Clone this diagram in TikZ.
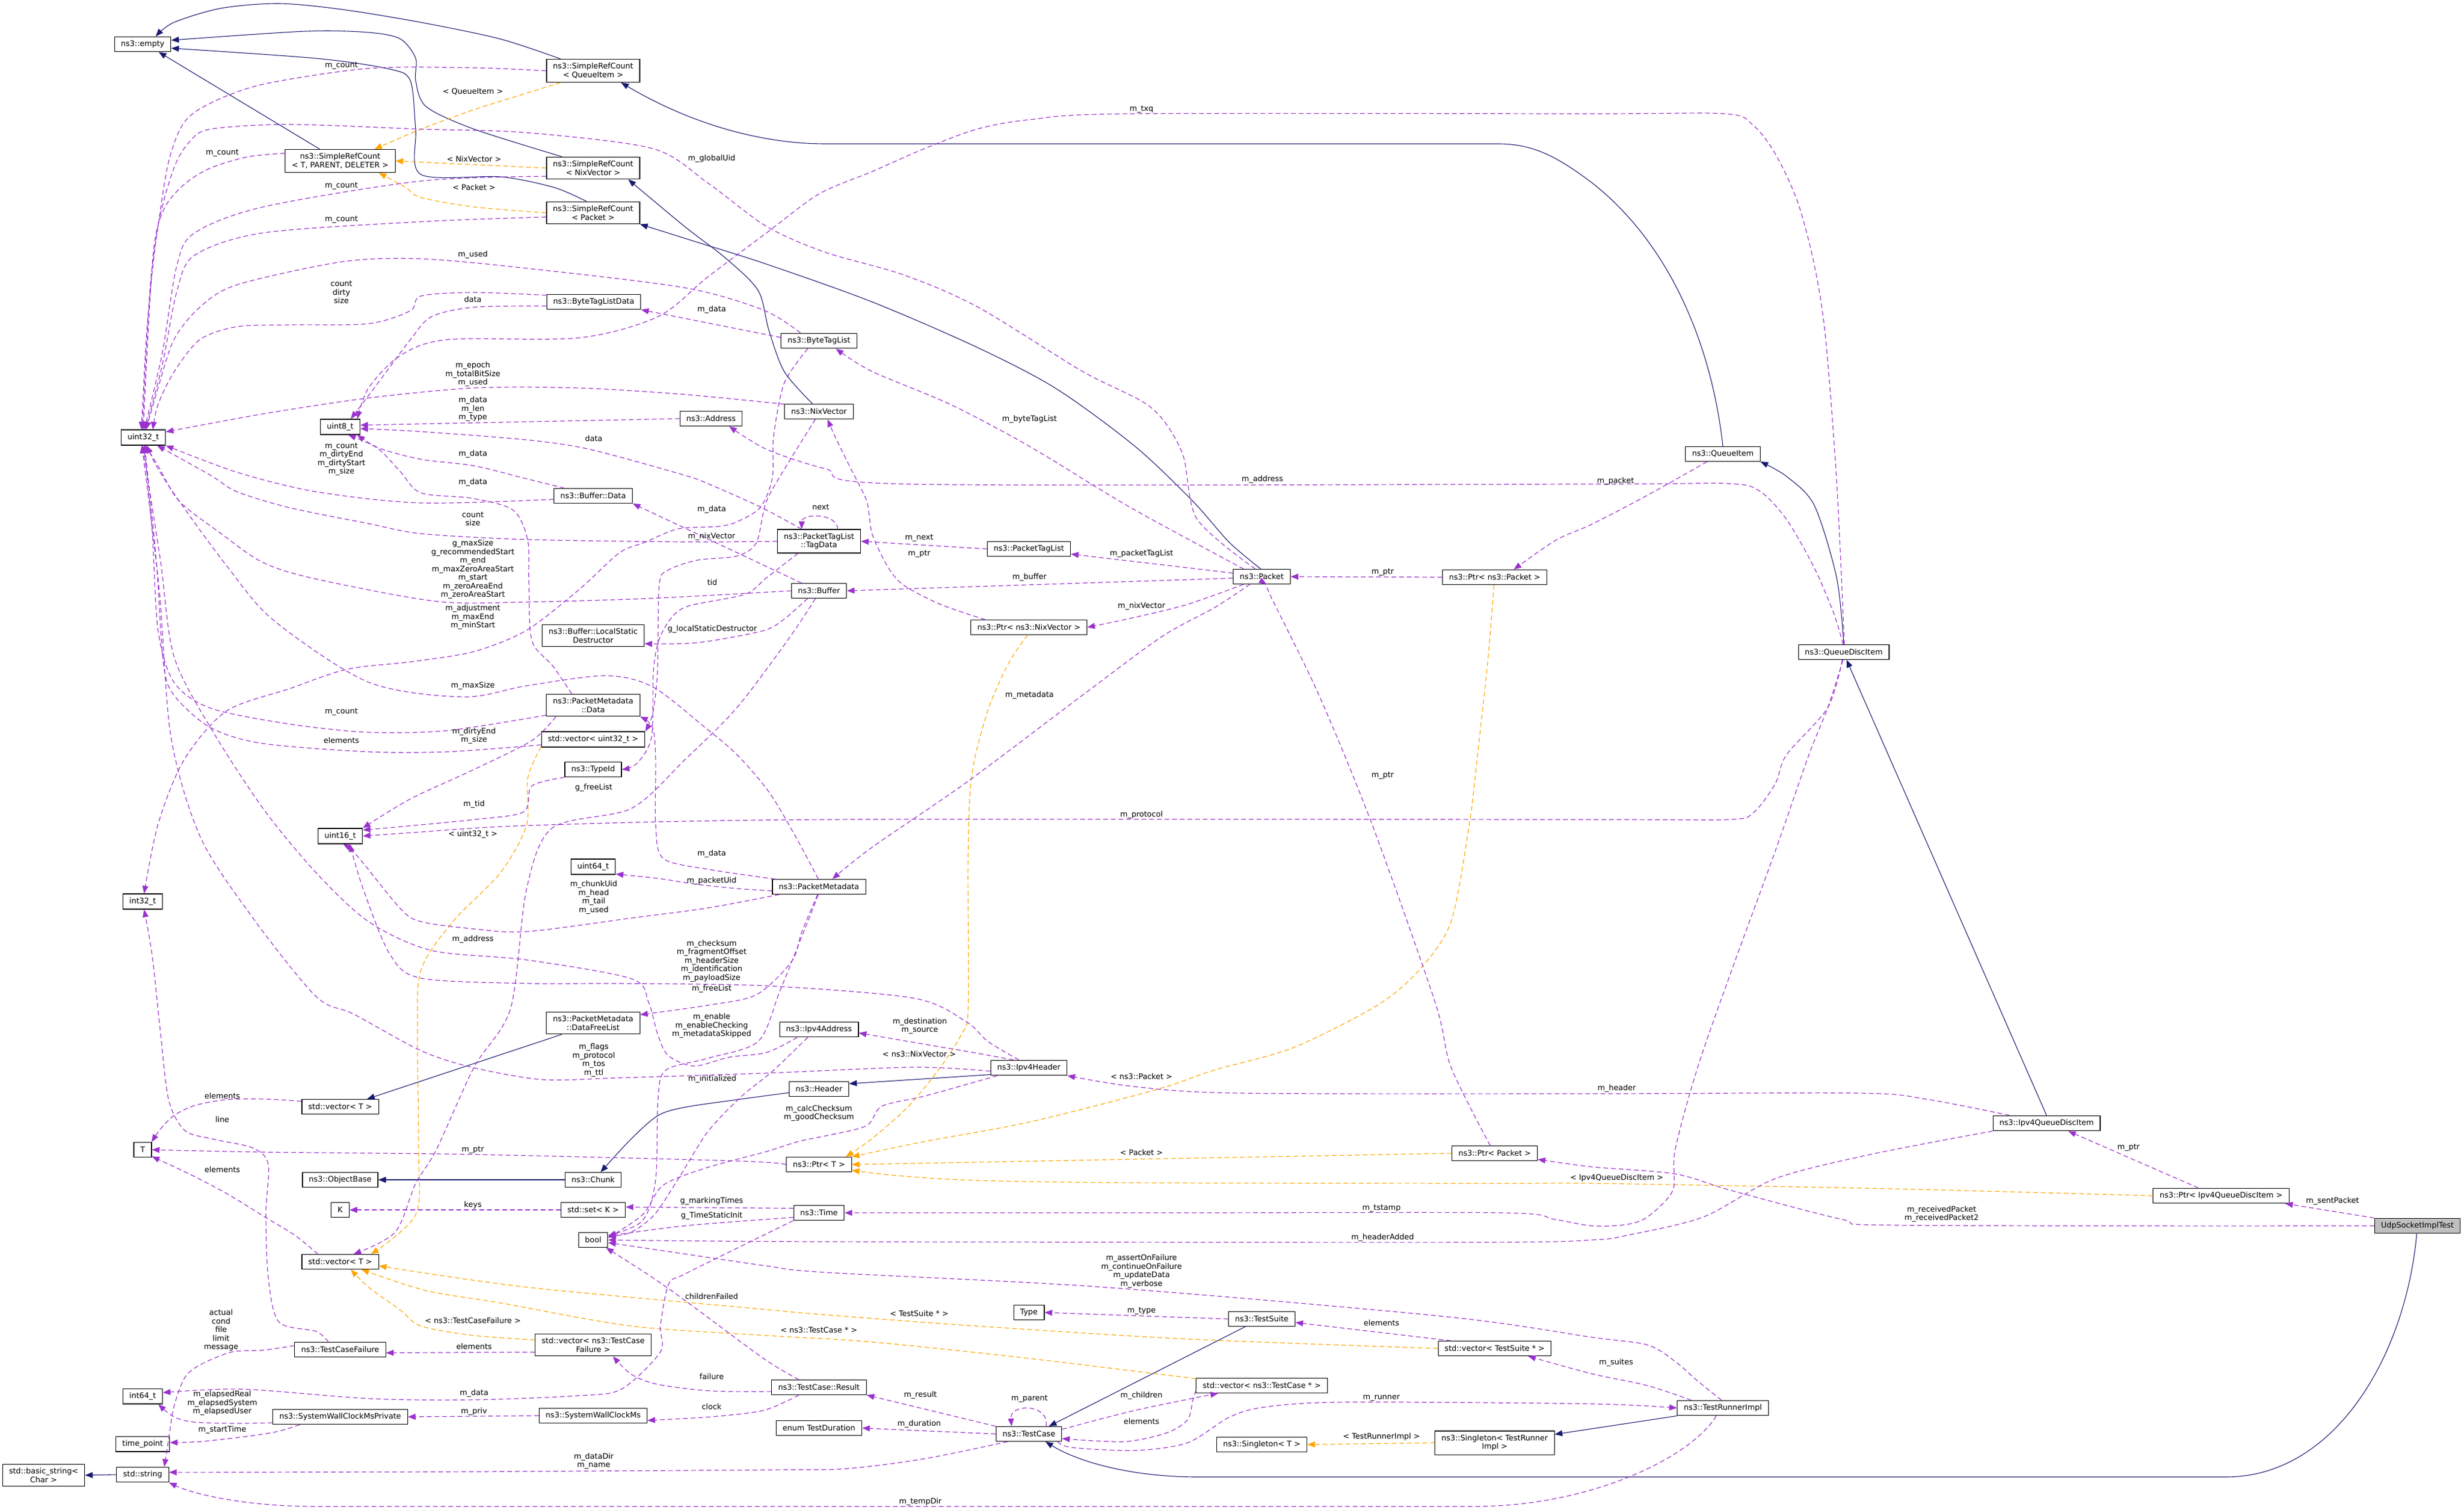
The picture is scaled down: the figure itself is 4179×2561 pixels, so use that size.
\documentclass[tikz,border=0pt]{standalone}
\usepackage{fontspec}
\setmainfont{DejaVu Sans}
\usetikzlibrary{arrows.meta}
\definecolor{edgeuse}{HTML}{9A32CD}
\definecolor{edgetpl}{HTML}{FFA500}
\definecolor{edgeinh}{HTML}{191970}
\newcommand{\dxfont}{\fontsize{13}{14.5}\selectfont}

\begin{document}
\begin{tikzpicture}[x=1pt,y=-1pt,
  klass/.style={draw=black, line width=1.1pt, fill=white, font=\dxfont, align=center, inner xsep=11pt, inner ysep=6.5pt, minimum height=25pt},
  lbl/.style={font=\dxfont, align=center, inner sep=0pt},
  member/.style={draw=edgeuse, line width=1.2pt, dash pattern=on 8pt off 5pt, -{Triangle[length=13pt,width=10pt]}},
  tmpl/.style={member, draw=edgetpl},
  inherit/.style={draw=edgeinh, line width=1.1pt, -{Triangle[length=13pt,width=10pt]}}]
\useasboundingbox (0,0) rectangle (4179,2561);

% classes
\node[klass] (empty) at (242,75) {ns3::empty};
\node[klass] (srcQ) at (1006,120) {ns3::SimpleRefCount\\< QueueItem >};
\node[klass] (srcT) at (577,273) {ns3::SimpleRefCount\\< T, PARENT, DELETER >};
\node[klass] (srcN) at (1006,285) {ns3::SimpleRefCount\\< NixVector >};
\node[klass] (srcP) at (1006,361) {ns3::SimpleRefCount\\< Packet >};
\node[klass] (btld) at (1007,512) {ns3::ByteTagListData};
\node[klass] (btl) at (1389,578) {ns3::ByteTagList};
\node[klass] (nix) at (1389,698) {ns3::NixVector};
\node[klass] (addr) at (1206,710) {ns3::Address};
\node[klass] (u32) at (243,742) {uint32\_t};
\node[klass] (u8) at (577,724) {uint8\_t};
\node[klass] (bdata) at (1006,841) {ns3::Buffer::Data};
\node[klass] (tagdata) at (1389,918) {ns3::PacketTagList\\::TagData};
\node[klass] (ptl) at (1745,931) {ns3::PacketTagList};
\node[klass] (packet) at (2140,978) {ns3::Packet};
\node[klass] (ptrPkt) at (2535,979) {ns3::Ptr< ns3::Packet >};
\node[klass] (buffer) at (1389,1002) {ns3::Buffer};
\node[klass] (ptrNix) at (1745,1064) {ns3::Ptr< ns3::NixVector >};
\node[klass] (lsd) at (1006,1078) {ns3::Buffer::LocalStatic\\Destructor};
\node[klass] (pmdata) at (1006,1196) {ns3::PacketMetadata\\::Data};
\node[klass] (vecu32) at (1006,1254) {std::vector< uint32\_t >};
\node[klass] (typeid) at (1006,1305) {ns3::TypeId};
\node[klass] (u16) at (577,1418) {uint16\_t};
\node[klass] (u64) at (1006,1470) {uint64\_t};
\node[klass] (pmeta) at (1389,1504) {ns3::PacketMetadata};
\node[klass] (i32) at (242,1529) {int32\_t};
\node[klass] (freelist) at (1006,1735) {ns3::PacketMetadata\\::DataFreeList};
\node[klass] (ipv4addr) at (1389,1746) {ns3::Ipv4Address};
\node[klass] (ipv4hdr) at (1745,1811) {ns3::Ipv4Header};
\node[klass] (header) at (1389,1847) {ns3::Header};
\node[klass] (vecT) at (577,1877) {std::vector< T >};
\node[klass] (tparam) at (242,1950) {T};
\node[klass] (ptrT) at (1389,1975) {ns3::Ptr< T >};
\node[klass] (ptrPkt2) at (2535,1956) {ns3::Ptr< Packet >};
\node[klass] (objbase) at (577,2001) {ns3::ObjectBase};
\node[klass] (chunk) at (1006,2001) {ns3::Chunk};
\node[klass] (kparam) at (577,2052) {K};
\node[klass] (setK) at (1006,2052) {std::set< K >};
\node[klass] (time) at (1389,2057) {ns3::Time};
\node[klass] (bool) at (1006,2103) {bool};
\node[klass] (vecT2) at (577,2140) {std::vector< T >};
\node[klass] (typeT) at (1745,2226) {Type};
\node[klass] (suite) at (2140,2237) {ns3::TestSuite};
\node[klass] (vecSuite) at (2535,2287) {std::vector< TestSuite * >};
\node[klass] (tcf) at (577,2289) {ns3::TestCaseFailure};
\node[klass] (vecTcf) at (1006,2281) {std::vector< ns3::TestCase\\Failure >};
\node[klass] (result) at (1389,2353) {ns3::TestCase::Result};
\node[klass] (vecCase) at (2140,2350) {std::vector< ns3::TestCase * >};
\node[klass] (i64) at (242,2368) {int64\_t};
\node[klass] (swcmp) at (577,2403) {ns3::SystemWallClockMsPrivate};
\node[klass] (swcm) at (1006,2401) {ns3::SystemWallClockMs};
\node[klass] (duration) at (1389,2422) {enum TestDuration};
\node[klass] (testcase) at (1745,2432) {ns3::TestCase};
\node[klass] (singT) at (2140,2450) {ns3::Singleton< T >};
\node[klass] (singR) at (2535,2447) {ns3::Singleton< TestRunner\\Impl >};
\node[klass] (runner) at (2922,2388) {ns3::TestRunnerImpl};
\node[klass] (tpoint) at (242,2449) {time\_point};
\node[klass] (bstring) at (74,2502) {std::basic\_string<\\Char >};
\node[klass] (string) at (242,2501) {std::string};
\node[klass] (queueitem) at (2922,770) {ns3::QueueItem};
\node[klass] (qdi) at (3127,1106) {ns3::QueueDiscItem};
\node[klass] (iqdi) at (3471,1905) {ns3::Ipv4QueueDiscItem};
\node[klass] (ptrIqdi) at (3767,2028) {ns3::Ptr< Ipv4QueueDiscItem >};
\node[klass, fill=black!25] (udp) at (4100,2079) {UdpSocketImplTest};

% inheritance
\draw[inherit] plot[smooth] coordinates {(srcQ.160) (848,66) (714,38) (580,16) (473,6) (375,14) (295,38) (empty.31)};
\draw[inherit] plot[smooth] coordinates {(srcN.160) (804,219) (723,181) (705,137) (705,99) (679,66) (625,55) (518,53) (empty.8)};
\draw[inherit] plot[smooth] coordinates {(srcP.120) (940,318) (850,300) (714,296) (705,219) (696,137) (660,117) (536,99) (empty.-8)};
\draw[inherit] (srcT.150) -- (empty.-26);
\draw[inherit] (queueitem.north) .. controls (2905,600) and (2840,420) .. (2700,310) .. controls (2640,265) and (2600,244) .. (2541,244) -- (1400,244) .. controls (1300,244) and (1180,215) .. (srcQ.-23);
\draw[inherit] plot[smooth] coordinates {(nix.130) (1330,630) (1304,560) (1286,493) (1232,439) (1161,384) (srcN.-18)};
\draw[inherit] plot[smooth] coordinates {(packet.97) (2085,920) (2023,850) (1925,757) (1791,659) (1657,589) (1479,512) (1300,448) (1180,410) (srcP.south east)};
\draw[inherit] plot[smooth] coordinates {(qdi.north) (3115,980) (3077,857) (3030,808) (queueitem.south east)};
\draw[inherit] (iqdi.north) -- (qdi.-70);
\draw[inherit] (udp.-95) .. controls (4080,2300) and (3960,2505) .. (3775,2505) -- (2032,2505) .. controls (1920,2505) and (1830,2480) .. (testcase.-25);
\draw[inherit] (runner.south west) -- (singR.8);
\draw[inherit] (suite.-155) -- (testcase.21);
\draw[inherit] (ipv4hdr.-170) -- (header.10);
\draw[inherit] plot[smooth] coordinates {(header.-173) (1250,1865) (1161,1878) (1116,1892) (1071,1931) (chunk.46)};
\draw[inherit] (chunk.west) -- (objbase.east);
\draw[inherit] (freelist.-160) -- (vecT.16);
\draw[inherit] (string.west) -- (bstring.east);

% template instances
\draw[tmpl] plot[smooth] coordinates {(srcQ.-160) (880,162) (804,186) (714,219) (srcT.19)};
\draw[tmpl] (srcN.west) -- (srcT.east);
\draw[tmpl] plot[smooth] coordinates {(srcP.west) (804,351) (714,335) (688,318) (srcT.-17)};
\draw[tmpl] plot[smooth] coordinates {(vecu32.-172) (895,1320) (893,1400) (848,1481) (768,1563) (714,1645) (708,1750) (710,1950) (705,2060) (vecT2.14)};
\draw[tmpl] plot[smooth] coordinates {(ptrNix.-100) (1711,1124) (1675,1206) (1648,1316) (1642,1453) (1642,1710) (1630,1755) (1595,1810) (1541,1876) (1479,1931) (ptrT.16)};
\draw[tmpl] plot[smooth] coordinates {(ptrPkt.-95) (2523,1124) (2505,1289) (2492,1398) (2461,1563) (2407,1645) (2336,1705) (2193,1777) (2059,1815) (1961,1848) (1746,1903) (1568,1936) (ptrT.north east)};
\draw[tmpl] (ptrPkt2.west) -- (ptrT.east);
\draw[tmpl] plot[smooth] coordinates {(ptrIqdi.west) (3200,2016) (2700,2007) (2550,2007) (1925,2006) (1657,2002) (1523,1994) (ptrT.-10)};
\draw[tmpl] plot[smooth] coordinates {(vecTcf.175) (804,2265) (714,2249) (679,2222) (625,2183) (vecT2.-36)};
\draw[tmpl] plot[smooth] coordinates {(vecSuite.west) (2014,2271) (1657,2249) (1400,2230) (1300,2221) (893,2183) (vecT2.-6)};
\draw[tmpl] plot[smooth] coordinates {(vecCase.174) (1746,2304) (1479,2276) (1300,2265) (1071,2249) (850,2210) (723,2189) (vecT2.-20)};
\draw[tmpl] (singR.west) -- (singT.east);

% members
\draw[member] plot[smooth] coordinates {(srcQ.west) (804,115) (625,116) (446,143) (357,175) (312,208) (286,274) (268,384) (254,494) (u32.97)};
\draw[member] plot[smooth] coordinates {(srcT.172) (420,266) (357,285) (312,313) (277,357) (259,439) (u32.90)};
\draw[member] plot[smooth] coordinates {(srcN.-170) (714,307) (446,351) (330,395) (300,450) (275,600) (u32.83)};
\draw[member] plot[smooth] coordinates {(srcP.-175) (714,376) (446,395) (330,433) (300,494) (275,620) (u32.76)};
\draw[member] plot[smooth] coordinates {(packet.130) (2030,880) (2005,768) (1952,691) (1836,630) (1657,520) (1532,466) (1400,428) (1300,384) (1200,310) (1107,252) (893,225) (714,219) (491,211) (357,219) (321,241) (295,285) (268,384) (250,548) (u32.103)};
\draw[member] plot[smooth] coordinates {(btl.157) (1295,526) (1161,488) (893,455) (714,439) (580,444) (402,483) (339,521) (295,576) (268,658) (u32.70)};
\draw[member] plot[smooth] coordinates {(btld.172) (804,496) (714,502) (696,527) (625,549) (491,551) (402,554) (339,576) (295,631) (268,686) (u32.40)};
\draw[member] plot[smooth] coordinates {(nix.168) (1161,669) (982,658) (804,658) (625,675) (446,702) (u32.14)};
\draw[member] plot[smooth] coordinates {(bdata.-175) (714,853) (536,834) (402,801) (u32.south east)};
\draw[member] plot[smooth] coordinates {(tagdata.west) (1161,919) (893,915) (714,905) (625,888) (491,861) (402,834) (357,806) (u32.-30)};
\draw[member] plot[smooth] coordinates {(buffer.west) (1100,1015) (893,1021) (741,1020) (536,982) (446,954) (375,905) (304,850) (268,790) (u32.-75)};
\draw[member] plot[smooth] coordinates {(pmeta.95) (1350,1420) (1304,1343) (1250,1280) (1196,1234) (1107,1165) (1027,1146) (893,1163) (786,1182) (625,1157) (464,1052) (384,959) (304,850) (265,790) (u32.-65)};
\draw[member] plot[smooth] coordinates {(pmdata.-168) (759,1239) (625,1242) (491,1228) (357,1201) (295,1157) (268,1069) (258,900) (u32.-85)};
\draw[member] plot[smooth] coordinates {(vecu32.-174) (759,1275) (625,1275) (446,1261) (357,1234) (295,1179) (277,1124) (265,950) (u32.-80)};
\draw[member] plot[smooth] coordinates {(ipv4hdr.-175) (1550,1810) (1300,1820) (1050,1828) (920,1831) (800,1810) (714,1782) (600,1720) (536,1690) (429,1557) (340,1420) (290,1250) (270,1000) (u32.-100)};
\draw[member] plot[smooth] coordinates {(ipv4addr.-160) (1300,1785) (1237,1793) (1177,1808) (1133,1790) (1115,1753) (1100,1700) (1071,1660) (893,1628) (732,1612) (625,1563) (536,1480) (446,1371) (357,1234) (295,1113) (272,950) (u32.-95)};
\draw[member] plot[smooth] coordinates {(btl.-145) (1330,650) (1312,740) (1310,810) (1290,860) (1250,885) (1217,893) (1150,897) (1093,920) (1050,938) (982,1000) (893,1069) (804,1105) (700,1122) (589,1135) (491,1168) (384,1206) (312,1289) (268,1398) (i32.80)};
\draw[member] plot[smooth] coordinates {(nix.-115) (1340,780) (1300,850) (1283,920) (1250,943) (1183,950) (1133,967) (1118,993) (1115,1140) (1107,1210) (vecu32.north east)};
\draw[member] plot[smooth] coordinates {(bdata.165) (893,812) (804,790) (714,779) (643,760) (u8.-25)};
\draw[member] plot[smooth] coordinates {(pmdata.152) (938,1130) (902,1086) (897,987) (895,916) (870,865) (800,845) (714,836) (679,800) (640,760) (u8.-45)};
\draw[member] plot[smooth] coordinates {(btld.-175) (804,521) (732,537) (696,576) (643,647) (u8.37)};
\draw[member] (addr.west) -- (u8.5);
\draw[member] plot[smooth] coordinates {(tagdata.145) (1290,860) (1200,820) (1161,806) (1000,762) (893,746) (714,732) (u8.-5)};
\draw[member] plot[smooth] coordinates {(qdi.85) (3115,816) (3096,571) (3077,449) (3049,343) (3011,261) (2973,212) (2926,193) (2700,193) (1916,193) (1746,203) (1657,219) (1568,252) (1479,291) (1389,329) (1300,395) (1200,470) (1116,537) (982,573) (759,576) (679,603) (625,658) (u8.25)};
\draw[member] (btl.175) -- (btld.south east);
\draw[member] plot[smooth] coordinates {(qdi.95) (3110,1040) (3077,963) (3030,881) (2983,832) (2926,820) (2700,821) (1541,821) (1400,795) (1300,762) (addr.-23)};
\draw[member] (tagdata.33) .. controls (1420,870) and (1360,870) .. (tagdata.145);
\draw[member] (ptl.west) -- (tagdata.east);
\draw[member] (packet.173) -- (ptl.-7);
\draw[member] (packet.-177) -- (buffer.east);
\draw[member] plot[smooth] coordinates {(packet.-157) (2014,1025) (1925,1047) (ptrNix.east)};
\draw[member] plot[smooth] coordinates {(ptrNix.170) (1595,1025) (1532,992) (1505,960) (1479,905) (1470,850) (1443,795) (1416,740) (nix.-42)};
\draw[member] plot[smooth] coordinates {(packet.157) (1916,860) (1746,757) (1612,686) (1479,630) (btl.-25)};
\draw[member] plot[smooth] coordinates {(packet.-147) (2059,1031) (1970,1080) (1836,1179) (1639,1327) (1479,1437) (pmeta.30)};
\draw[member] (ptrPkt.west) -- (packet.east);
\draw[member] plot[smooth] coordinates {(ptrPkt2.120) (2461,1810) (2434,1700) (2327,1398) (2237,1179) (2157,1015) (packet.-58)};
\draw[member] plot[smooth] coordinates {(queueitem.-154) (2794,840) (2700,889) (2639,916) (ptrPkt.22)};
\draw[member] plot[smooth] coordinates {(qdi.-100) (3100,1200) (3030,1280) (3011,1329) (2974,1378) (2931,1390) (2700,1390) (1400,1390) (900,1400) (700,1412) (u16.east)};
\draw[member] plot[smooth] coordinates {(qdi.-95) (3100,1200) (3068,1280) (3011,1443) (2936,1648) (2879,1811) (2841,1950) (2837,2019) (2794,2064) (2757,2077) (2700,2079) (2636,2068) (2550,2057) (2000,2057) (time.east)};
\draw[member] plot[smooth] coordinates {(iqdi.south west) (3172,1958) (3011,1999) (2889,2064) (2760,2095) (2700,2103) (2500,2107) (1400,2106) (bool.east)};
\draw[member] (udp.north west) -- (ptrIqdi.-7);
\draw[member] plot[smooth] coordinates {(udp.west) (3219,2078) (3124,2068) (2936,2019) (2841,1991) (2700,1979) (ptrPkt2.-8)};
\draw[member] (ptrIqdi.161) -- (iqdi.-20);
\draw[member] plot[smooth] coordinates {(iqdi.168) (3266,1864) (3153,1854) (2700,1855) (2104,1854) (1925,1843) (ipv4hdr.south east)};
\draw[member] plot[smooth] coordinates {(ipv4hdr.153) (1650,1785) (1568,1771) (ipv4addr.-5)};
\draw[member] plot[smooth] coordinates {(ipv4hdr.142) (1675,1766) (1639,1733) (1550,1693) (1300,1672) (1050,1668) (900,1668) (714,1659) (661,1618) (616,1508) (u16.-40)};
\draw[member] plot[smooth] coordinates {(ipv4addr.-145) (1310,1817) (1257,1860) (1200,1920) (1150,2000) (1110,2060) (1070,2090) (bool.12)};
\draw[member] plot[smooth] coordinates {(ipv4hdr.-166) (1568,1859) (1496,1876) (1470,1909) (1407,1925) (1354,1936) (1300,1953) (1200,1980) (1125,2010) (1090,2060) (bool.8)};
\draw[member] plot[smooth] coordinates {(pmeta.-95) (1370,1563) (1323,1680) (1286,1766) (1200,1795) (1129,1815) (1116,1864) (1112,2000) (1090,2070) (bool.16)};
\draw[member] plot[smooth] coordinates {(pmeta.-100) (1360,1580) (1343,1630) (1283,1687) (1200,1705) (freelist.10)};
\draw[member] plot[smooth] coordinates {(pmeta.-169) (1200,1540) (1071,1557) (893,1580) (800,1575) (714,1563) (679,1541) (607,1453) (u16.-70)};
\draw[member] plot[smooth] coordinates {(pmeta.-175) (1250,1507) (1183,1500) (1117,1490) (u64.-18)};
\draw[member] plot[smooth] coordinates {(pmeta.170) (1205,1475) (1125,1456) (1112,1398) (1112,1289) (1107,1234) (pmdata.south east)};
\draw[member] plot[smooth] coordinates {(pmdata.-163) (902,1256) (804,1305) (696,1355) (u16.north east)};
\draw[member] plot[smooth] coordinates {(typeid.south west) (902,1333) (888,1377) (804,1390) (680,1402) (u16.15)};
\draw[member] plot[smooth] coordinates {(tagdata.-150) (1300,980) (1263,1008) (1167,1028) (1137,1050) (1117,1087) (1108,1140) (1105,1250) (1080,1295) (typeid.east)};
\draw[member] (buffer.156) -- (bdata.south east);
\draw[member] plot[smooth] coordinates {(buffer.-146) (1330,1050) (1293,1070) (1183,1090) (lsd.-9)};
\draw[member] plot[smooth] coordinates {(buffer.-115) (1340,1080) (1250,1200) (1161,1289) (1071,1371) (937,1404) (893,1508) (866,1710) (804,1810) (740,1950) (705,2007) (670,2090) (vecT2.30)};
\draw[member] plot[smooth] coordinates {(time.south west) (1250,2117) (1161,2161) (1134,2178) (1120,2249) (1120,2293) (1054,2356) (982,2367) (804,2374) (625,2372) (411,2356) (i64.10)};
\draw[member] (time.170) -- (setK.5);
\draw[member] plot[smooth] coordinates {(time.-170) (1161,2079) (bool.15)};
\draw[member] (setK.west) -- (kparam.east);
\draw[member] plot[smooth] coordinates {(result.159) (1295,2304) (1161,2205) (1098,2161) (bool.-31)};
\draw[member] plot[smooth] coordinates {(runner.100) (2879,2342) (2841,2309) (2794,2281) (2700,2268) (2452,2233) (1871,2183) (1400,2158) (1300,2147) (1150,2125) (bool.-10)};
\draw[member] (suite.west) -- (typeT.east);
\draw[member] (vecSuite.170) -- (suite.-6);
\draw[member] plot[smooth] coordinates {(runner.166) (2794,2350) (2700,2330) (vecSuite.-13)};
\draw[member] (testcase.north west) -- (result.south east);
\draw[member] (testcase.west) -- (duration.east);
\draw[member] (testcase.24) .. controls (1780,2380) and (1712,2380) .. (testcase.156);
\draw[member] plot[smooth] coordinates {(testcase.8) (1925,2392) (vecCase.-170)};
\draw[member] plot[smooth] coordinates {(vecCase.-176) (2023,2375) (2014,2408) (1979,2430) (1907,2445) (testcase.-8)};
\draw[member] plot[smooth] coordinates {(testcase.-15) (1818,2455) (1925,2460) (2014,2447) (2086,2403) (2148,2386) (2282,2378) (2700,2381) (runner.west)};
\draw[member] (runner.-130) .. controls (2870,2470) and (2700,2555) .. (2500,2555) -- (536,2555) .. controls (420,2555) and (330,2535) .. (string.south east);
\draw[member] plot[smooth] coordinates {(testcase.-160) (1568,2474) (1434,2491) (1300,2493) (800,2496) (400,2497) (string.5)};
\draw[member] plot[smooth] coordinates {(tcf.175) (446,2290) (393,2293) (339,2315) (313,2337) (295,2386) (286,2441) (string.20)};
\draw[member] plot[smooth] coordinates {(tcf.147) (536,2258) (473,2242) (455,2167) (451,2057) (455,1975) (429,1947) (357,1931) (313,1917) (286,1865) (272,1750) (258,1620) (i32.-80)};
\draw[member] plot[smooth] coordinates {(vecT.172) (450,1864) (384,1865) (330,1875) (295,1892) (272,1915) (tparam.41)};
\draw[member] plot[smooth] coordinates {(vecT2.161) (500,2095) (446,2062) (384,2024) (321,1991) (tparam.-36)};
\draw[member] plot[smooth] coordinates {(ptrT.west) (1250,1969) (804,1958) (446,1954) (tparam.east)};
\draw[member] (vecTcf.-173) -- (tcf.-4);
\draw[member] plot[smooth] coordinates {(result.-175) (1205,2359) (1116,2348) (1071,2331) (vecTcf.-30)};
\draw[member] plot[smooth] coordinates {(result.-159) (1295,2392) (1205,2403) (swcm.-5)};
\draw[member] (swcm.west) -- (swcmp.east);
\draw[member] plot[smooth] coordinates {(swcmp.-175) (400,2414) (330,2412) (295,2403) (i64.-27)};
\draw[member] plot[smooth] coordinates {(swcmp.-169) (470,2428) (420,2436) (340,2445) (tpoint.3)};

% labels
\node[lbl] (l1) at (802,156) {< QueueItem >};
\node[lbl] (l2) at (804,270) {< NixVector >};
\node[lbl] (l3) at (804,318) {< Packet >};
\node[lbl] (l4) at (579,111) {m\_count};
\node[lbl] (l5) at (377,259) {m\_count};
\node[lbl] (l6) at (579,315) {m\_count};
\node[lbl] (l7) at (579,372) {m\_count};
\node[lbl] (l8) at (1207,269) {m\_globalUid};
\node[lbl] (l9) at (1936,185) {m\_txq};
\node[lbl] (l10) at (802,432) {m\_used};
\node[lbl] (l11) at (579,496) {count\\dirty\\size};
\node[lbl] (l12) at (802,508) {data};
\node[lbl] (l13) at (1207,525) {m\_data};
\node[lbl] (l14) at (1746,711) {m\_byteTagList};
\node[lbl] (l15) at (802,635) {m\_epoch\\m\_totalBitSize\\m\_used};
\node[lbl] (l16) at (802,694) {m\_data\\m\_len\\m\_type};
\node[lbl] (l17) at (1007,744) {data};
\node[lbl] (l18) at (579,779) {m\_count\\m\_dirtyEnd\\m\_dirtyStart\\m\_size};
\node[lbl] (l19) at (802,770) {m\_data};
\node[lbl] (l20) at (802,818) {m\_data};
\node[lbl] (l21) at (2141,813) {m\_address};
\node[lbl] (l22) at (2740,816) {m\_packet};
\node[lbl] (l23) at (1207,864) {m\_data};
\node[lbl] (l24) at (1392,860) {next};
\node[lbl] (l25) at (802,880) {count\\size};
\node[lbl] (l26) at (1207,910) {m\_nixVector};
\node[lbl] (l27) at (1559,912) {m\_next};
\node[lbl] (l28) at (1559,939) {m\_ptr};
\node[lbl] (l29) at (1936,939) {m\_packetTagList};
\node[lbl] (l30) at (2345,970) {m\_ptr};
\node[lbl] (l31) at (1746,979) {m\_buffer};
\node[lbl] (l32) at (802,966) {g\_maxSize\\g\_recommendedStart\\m\_end\\m\_maxZeroAreaStart\\m\_start\\m\_zeroAreaEnd\\m\_zeroAreaStart};
\node[lbl] (l33) at (1208,988) {tid};
\node[lbl] (l34) at (1936,1028) {m\_nixVector};
\node[lbl] (l35) at (802,1047) {m\_adjustment\\m\_maxEnd\\m\_minStart};
\node[lbl] (l36) at (1208,1067) {g\_localStaticDestructor};
\node[lbl] (l37) at (802,1163) {m\_maxSize};
\node[lbl] (l38) at (1746,1179) {m\_metadata};
\node[lbl] (l39) at (579,1207) {m\_count};
\node[lbl] (l40) at (804,1248) {m\_dirtyEnd\\m\_size};
\node[lbl] (l41) at (579,1256) {elements};
\node[lbl] (l42) at (2345,1315) {m\_ptr};
\node[lbl] (l43) at (1007,1336) {g\_freeList};
\node[lbl] (l44) at (804,1364) {m\_tid};
\node[lbl] (l45) at (1936,1382) {m\_protocol};
\node[lbl] (l46) at (802,1415) {< uint32\_t >};
\node[lbl] (l47) at (1207,1448) {m\_data};
\node[lbl] (l48) at (1207,1494) {m\_packetUid};
\node[lbl] (l49) at (1007,1522) {m\_chunkUid\\m\_head\\m\_tail\\m\_used};
\node[lbl] (l50) at (802,1593) {m\_address};
\node[lbl] (l51) at (1207,1630) {m\_checksum\\m\_fragmentOffset\\m\_headerSize\\m\_identification\\m\_payloadSize};
\node[lbl] (l52) at (1207,1677) {m\_freeList};
\node[lbl] (l53) at (1207,1740) {m\_enable\\m\_enableChecking\\m\_metadataSkipped};
\node[lbl] (l54) at (1560,1740) {m\_destination\\m\_source};
\node[lbl] (l55) at (1559,1788) {< ns3::NixVector >};
\node[lbl] (l56) at (1007,1798) {m\_flags\\m\_protocol\\m\_tos\\m\_ttl};
\node[lbl] (l57) at (1208,1830) {m\_initialized};
\node[lbl] (l58) at (1936,1826) {< ns3::Packet >};
\node[lbl] (l59) at (2742,1846) {m\_header};
\node[lbl] (l60) at (377,1859) {elements};
\node[lbl] (l61) at (1389,1888) {m\_calcChecksum\\m\_goodChecksum};
\node[lbl] (l62) at (377,1899) {line};
\node[lbl] (l63) at (3610,1946) {m\_ptr};
\node[lbl] (l64) at (802,1950) {m\_ptr};
\node[lbl] (l65) at (1936,1955) {< Packet >};
\node[lbl] (l66) at (377,1984) {elements};
\node[lbl] (l67) at (2742,1998) {< Ipv4QueueDiscItem >};
\node[lbl] (l68) at (3956,2037) {m\_sentPacket};
\node[lbl] (l69) at (1207,2037) {g\_markingTimes};
\node[lbl] (l70) at (802,2044) {keys};
\node[lbl] (l71) at (2343,2049) {m\_tstamp};
\node[lbl] (l72) at (3293,2059) {m\_receivedPacket\\m\_receivedPacket2};
\node[lbl] (l73) at (1207,2062) {g\_TimeStaticInit};
\node[lbl] (l74) at (2345,2099) {m\_headerAdded};
\node[lbl] (l75) at (1936,2156) {m\_assertOnFailure\\m\_continueOnFailure\\m\_updateData\\m\_verbose};
\node[lbl] (l76) at (1207,2199) {childrenFailed};
\node[lbl] (l77) at (1936,2223) {m\_type};
\node[lbl] (l78) at (1559,2228) {< TestSuite * >};
\node[lbl] (l79) at (802,2240) {< ns3::TestCaseFailure >};
\node[lbl] (l80) at (2343,2244) {elements};
\node[lbl] (l81) at (375,2256) {actual\\cond\\file\\limit\\message};
\node[lbl] (l82) at (1389,2256) {< ns3::TestCase * >};
\node[lbl] (l83) at (804,2284) {elements};
\node[lbl] (l84) at (2741,2311) {m\_suites};
\node[lbl] (l85) at (1207,2335) {failure};
\node[lbl] (l86) at (1561,2366) {m\_result};
\node[lbl] (l87) at (1936,2367) {m\_children};
\node[lbl] (l88) at (2343,2371) {m\_runner};
\node[lbl] (l89) at (1746,2372) {m\_parent};
\node[lbl] (l90) at (804,2363) {m\_data};
\node[lbl] (l91) at (377,2380) {m\_elapsedReal\\m\_elapsedSystem\\m\_elapsedUser};
\node[lbl] (l92) at (1207,2386) {clock};
\node[lbl] (l93) at (804,2394) {m\_priv};
\node[lbl] (l94) at (1936,2411) {elements};
\node[lbl] (l95) at (1559,2415) {m\_duration};
\node[lbl] (l96) at (377,2425) {m\_startTime};
\node[lbl] (l97) at (2343,2437) {< TestRunnerImpl >};
\node[lbl] (l98) at (1007,2478) {m\_dataDir\\m\_name};
\node[lbl] (l99) at (1561,2547) {m\_tempDir};
\end{tikzpicture}
\end{document}
